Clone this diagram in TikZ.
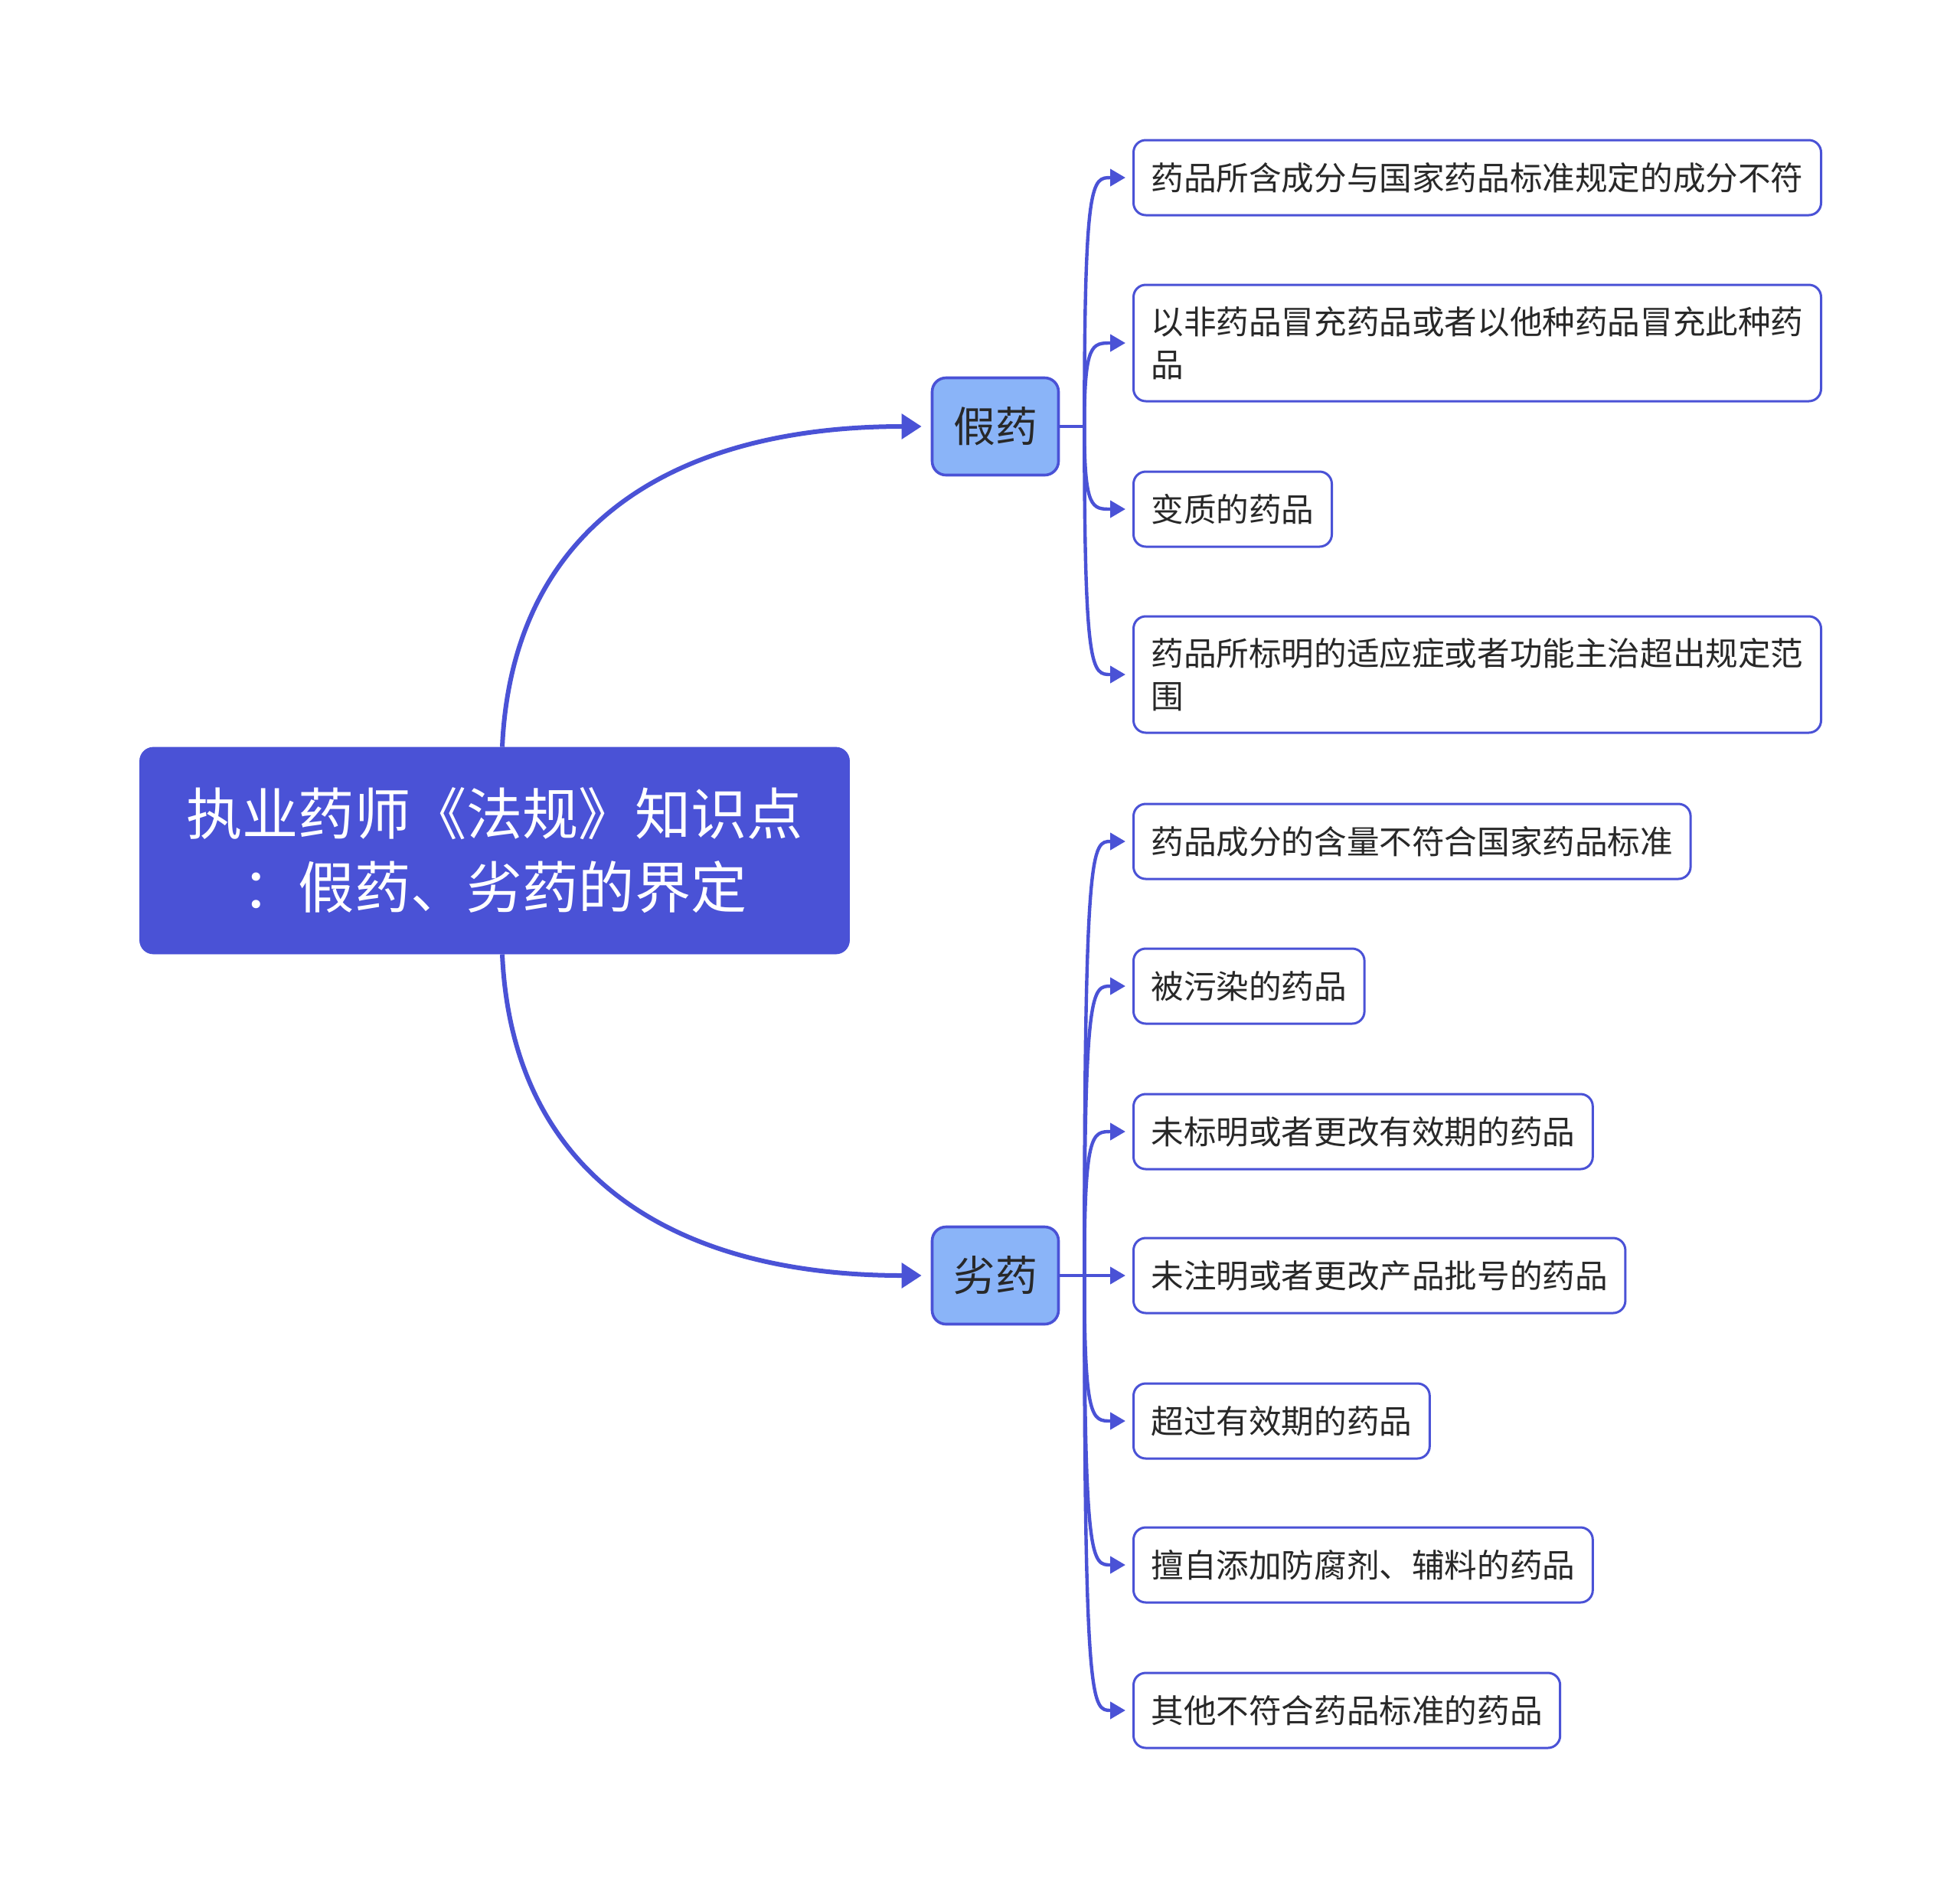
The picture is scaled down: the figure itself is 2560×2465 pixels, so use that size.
\documentclass[tikz,border=0pt]{standalone}
\usepackage{fontspec}
\setmainfont{Noto Sans CJK SC}
\usetikzlibrary{arrows.meta,calc}
\definecolor{mainblue}{RGB}{74,82,214}
\definecolor{lightblue}{RGB}{138,180,248}
\definecolor{txt}{RGB}{40,40,40}
\begin{document}
\begin{tikzpicture}[x=0.5pt,y=-0.5pt,
 rootbox/.style={fill=mainblue, draw=mainblue, rounded corners=9pt, minimum width=463.5pt, minimum height=135pt, align=center, text=white, font=\fontsize{36.6pt}{48pt}\selectfont, inner sep=0pt},
 branchbox/.style={fill=lightblue, draw=mainblue, line width=1.8pt, rounded corners=9pt, minimum width=82.5pt, minimum height=63.5pt, inner sep=0pt, text=txt, font=\fontsize{27.4pt}{34pt}\selectfont},
 leafbox/.style={draw=mainblue, line width=1.5pt, fill=white, rounded corners=8pt, anchor=west, inner xsep=11.5pt, inner ysep=0pt, minimum height=49pt, align=left, text=txt, font=\fontsize{21.3pt}{27.8pt}\selectfont},
 tallbox/.style={leafbox, minimum height=76pt},
 mainline/.style={draw=mainblue, line width=3pt, -{Triangle[length=13pt,width=16pt]}},
 stubline/.style={draw=mainblue, line width=2.4pt},
 leafline/.style={draw=mainblue, line width=2.2pt, -{Triangle[length=10pt,width=11pt]}},
]
\fill[white] (0,0) rectangle (2560,2465);
\useasboundingbox (0,0) rectangle (2560,2465);

\node[rootbox] (root) at (646,1111) {执业药师《法规》知识点\\：假药、劣药的界定};

\node[branchbox] (jia) at (1300,557) {假药};
\node[branchbox] (lie) at (1300,1666) {劣药};

\node[leafbox] (a1) at (1479,232) {药品所含成分与国家药品标准规定的成分不符};
\node[tallbox] (a2) at (1479,448) {以非药品冒充药品或者以他种药品冒充此种药\\品};
\node[leafbox] (a3) at (1479,665) {变质的药品};
\node[tallbox] (a4) at (1479,881) {药品所标明的适应症或者功能主治超出规定范\\围};

\node[leafbox] (b1) at (1479,1099) {药品成分的含量不符合国家药品标准};
\node[leafbox] (b2) at (1479,1288) {被污染的药品};
\node[leafbox] (b3) at (1479,1478) {未标明或者更改有效期的药品};
\node[leafbox] (b4) at (1479,1666) {未注明或者更改产品批号的药品};
\node[leafbox] (b5) at (1479,1856) {超过有效期的药品};
\node[leafbox] (b6) at (1479,2044) {擅自添加防腐剂、辅料的药品};
\node[leafbox] (b7) at (1479,2234) {其他不符合药品标准的药品};

\draw[mainline] ([xshift=5pt]root.north) .. controls +(13,-290) and +(-323,0) .. ([xshift=-6pt]jia.west);
\draw[mainline] ([xshift=5pt]root.south) .. controls +(13,290) and +(-323,0) .. ([xshift=-6pt]lie.west);

\coordinate (ja) at ($(jia.east)+(16pt,0)$);
\coordinate (jb) at ($(lie.east)+(16pt,0)$);
\draw[stubline] (jia.east) -- (ja);
\draw[stubline] (lie.east) -- (jb);

\foreach \n in {a1,a2,a3,a4}
  \draw[leafline] (ja) .. controls (ja |- \n.west) and ($(ja |- \n.west)+(10,0)$) .. ([xshift=-4.5pt]\n.west);
\foreach \n in {b1,b2,b3,b4,b5,b6,b7}
  \draw[leafline] (jb) .. controls (jb |- \n.west) and ($(jb |- \n.west)+(10,0)$) .. ([xshift=-4.5pt]\n.west);
\end{tikzpicture}
\end{document}
